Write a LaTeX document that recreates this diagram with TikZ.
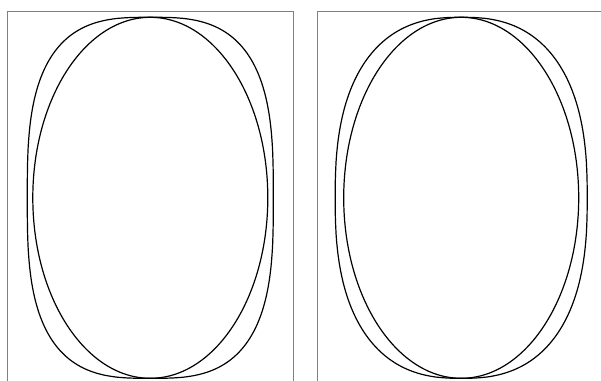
\documentclass[tikz,border=0pt]{standalone}
\usepackage{tikz}

\tikzset{
    panelframe/.style={draw=black!50, line width=0.9pt},
    curve/.style={draw=black, line width=1.2pt, line join=round}
}

\begin{document}
\begin{tikzpicture}[x=1pt, y=-1pt]

    \useasboundingbox (0,0) rectangle (601,380);

    % --- Shape geometry ---
    \def\cy{197.8}      % common centre height
    \def\b{180.5}       % common half height
    \def\ain{117.5}     % half width of the plain ellipse

    % --- Panel frames (open at the bottom) ---
    \draw[panelframe] (7.5,381) |- (293.5,11.5) -- (293.5,381);
    \draw[panelframe] (317.5,381) |- (602,11.5);

    % --- Curves: plain ellipse and Lame curve of exponent \n ---
    \foreach \cx/\aout/\n in {150.3/123/3, 461.2/126/2.5} {
        % inner ellipse
        \draw[curve] (\cx,\cy) ellipse [x radius=\ain, y radius=\b];
        % outer superellipse
        \draw[curve] plot[domain=0.5:360.5, samples=361, variable=\t]
            ({\cx + \aout*sign(cos(\t))*pow(abs(cos(\t)),2/\n)},
             {\cy + \b*sign(sin(\t))*pow(abs(sin(\t)),2/\n)}) -- cycle;
    }

\end{tikzpicture}
\end{document}
